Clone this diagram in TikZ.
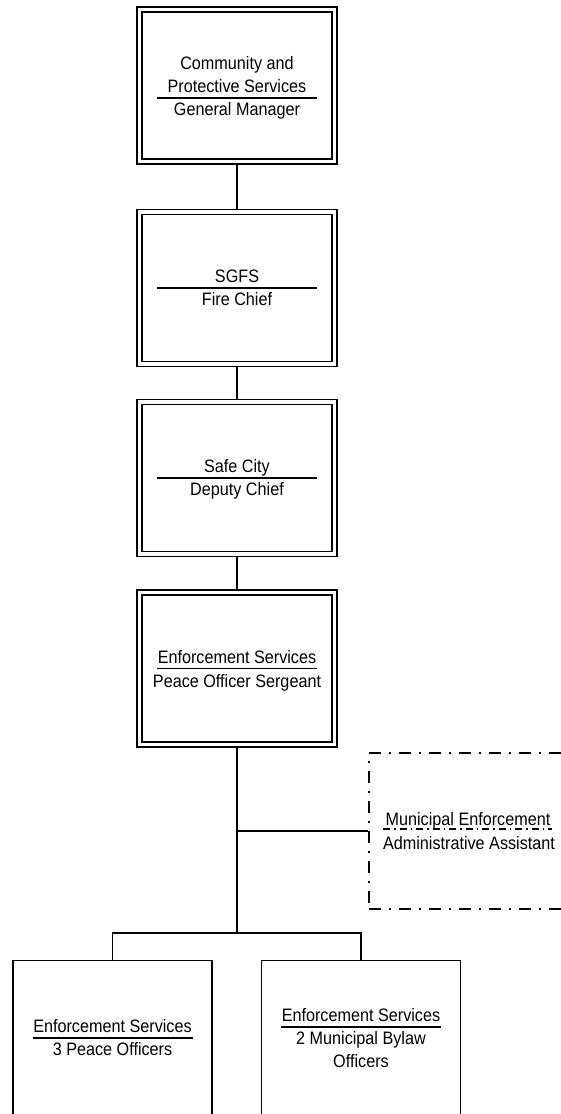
\documentclass[tikz,border=0pt]{standalone}
\usepackage{fontspec}
\setmainfont{Liberation Sans}[FakeStretch=0.90]
\usetikzlibrary{calc}
\begin{document}
\begin{tikzpicture}[x=1pt,y=-1pt,
  rolebox/.style={draw, line width=1.1pt, minimum width=200pt, minimum height=157pt, inner sep=0pt},
  innerframe/.style={line width=1.8pt},
  staffbox/.style={draw, line width=1.4pt, minimum width=199pt, minimum height=200pt, inner sep=0pt, anchor=north},
  assistbox/.style={draw, line width=1.1pt, dash pattern=on 12pt off 8pt on 2pt off 8pt, minimum width=198pt, minimum height=156pt, inner sep=0pt},
  divider/.style={line width=1.4pt},
  dotdivider/.style={line width=1.1pt, dash pattern=on 7pt off 4pt on 1.5pt off 4pt},
  conn/.style={line width=1.5pt},
  lbl/.style={anchor=base, inner sep=0pt, font=\fontsize{18}{23}\selectfont}
]
\useasboundingbox (0,0) rectangle (561,1114);
\clip (0,0) rectangle (561,1114);

% chain of command
\node[rolebox] (gm)     at (237,85.5)  {};
\node[rolebox] (chief)  at (237,288)   {};
\node[rolebox] (deputy) at (237,478)   {};
\node[rolebox] (sgt)    at (237,668.5) {};
\foreach \n in {gm,chief,deputy,sgt}
  \draw[innerframe] ([shift={(5.5,5.5)}]\n.north west) rectangle ([shift={(-5.5,-5.5)}]\n.south east);

% staff positions
\node[assistbox] (asst) at (468,831) {};
\node[staffbox] (po) at (112.5,960) {};
\node[staffbox] (bl) at (361,960) {};

% titles and dividers
\node[lbl] (gm-a) at ($(gm.center)+(0,-16)$) {Community and};
\node[lbl] (gm-b) at ($(gm.center)+(0,7)$) {Protective Services};
\draw[divider] ($(gm.center)+(-80,12.5)$) -- ($(gm.center)+(80,12.5)$);
\node[lbl] (gm-c) at ($(gm.center)+(0,30)$) {General Manager};

\node[lbl] (chief-a) at ($(chief.center)+(0,-5.5)$) {SGFS};
\draw[divider] ($(chief.center)+(-80,0)$) -- ($(chief.center)+(80,0)$);
\node[lbl] (chief-b) at ($(chief.center)+(0,17.5)$) {Fire Chief};

\node[lbl] (deputy-a) at ($(deputy.center)+(0,-5.5)$) {Safe City};
\draw[divider] ($(deputy.center)+(-80,0)$) -- ($(deputy.center)+(80,0)$);
\node[lbl] (deputy-b) at ($(deputy.center)+(0,17.5)$) {Deputy Chief};

\node[lbl] (sgt-a) at ($(sgt.center)+(0,-5.5)$) {Enforcement Services};
\draw[divider] ($(sgt.center)+(-80,0)$) -- ($(sgt.center)+(80,0)$);
\node[lbl] (sgt-b) at ($(sgt.center)+(0,18.5)$) {Peace Officer Sergeant};

\node[lbl] (asst-a) at ($(asst.center)+(0,-5.5)$) {Municipal Enforcement};
\draw[dotdivider] ($(asst.center)+(-85,-2)$) -- ($(asst.center)+(84,-2)$);
\node[lbl] (asst-b) at ($(asst.center)+(1,18.5)$) {Administrative Assistant};

\node[lbl] (po-a) at ($(po.north)+(0,72.5)$) {Enforcement Services};
\draw[divider] ($(po.north)+(-80,78)$) -- ($(po.north)+(80,78)$);
\node[lbl] (po-b) at ($(po.north)+(0,95.5)$) {3 Peace Officers};

\node[lbl] (bl-a) at ($(bl.north)+(0,61.5)$) {Enforcement Services};
\draw[divider] ($(bl.north)+(-80,67)$) -- ($(bl.north)+(80,67)$);
\node[lbl] (bl-b) at ($(bl.north)+(0,84.5)$) {2 Municipal Bylaw};
\node[lbl] (bl-c) at ($(bl.north)+(0,107.5)$) {Officers};

% reporting lines
\coordinate (fork) at (237,933);
\draw[conn] (gm.south) -- (chief.north);
\draw[conn] (chief.south) -- (deputy.north);
\draw[conn] (deputy.south) -- (sgt.north);
\draw[conn] (sgt.south) -- (fork);
\draw[conn] (sgt.south |- asst.west) -- (asst.west);
\draw[conn] (po.north) |- (fork) -| (bl.north);
\end{tikzpicture}
\end{document}
